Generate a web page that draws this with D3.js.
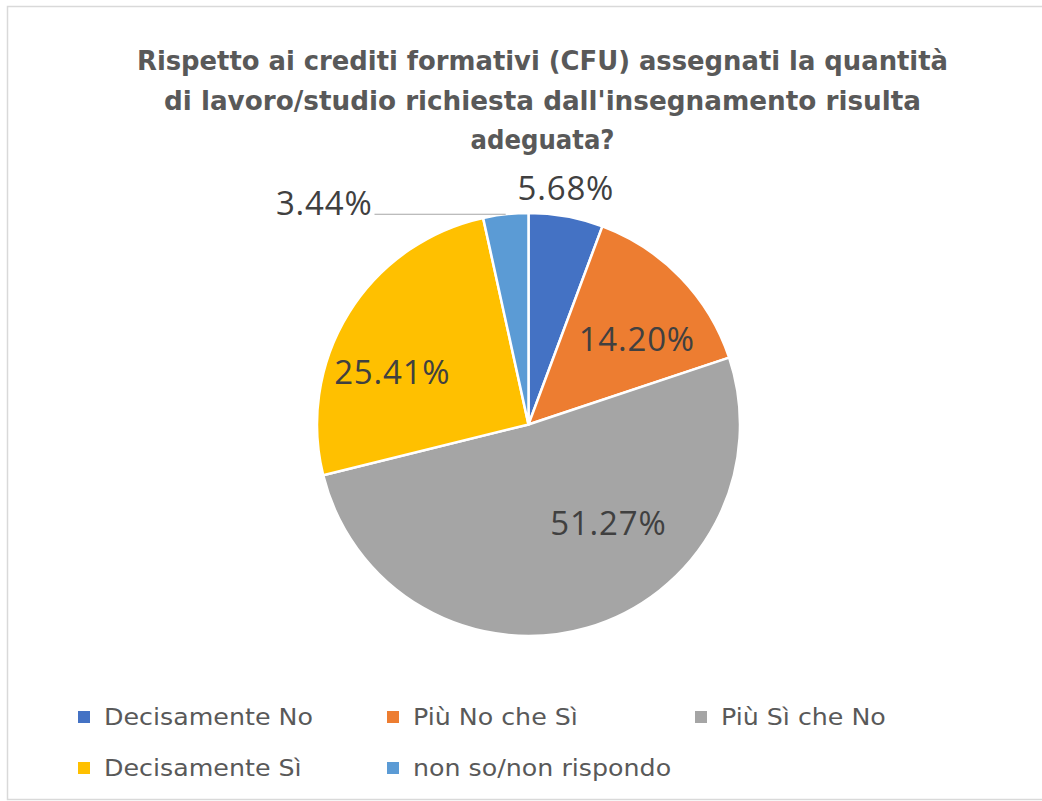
<!DOCTYPE html>
<html>
<head>
<meta charset="utf-8">
<script src="https://cdn.jsdelivr.net/npm/d3@7"></script>
<style>
  body { margin: 0; background: #fff; }
  svg { display: block; }
</style>
</head>
<body>
<svg></svg>
<script>
// ---------------------------------------------------------
// Data
const categories = ['Decisamente No', 'Più No che Sì', 'Più Sì che No', 'Decisamente Sì', 'non so/non rispondo'];
const values = [5.68, 14.2, 51.27, 25.41, 3.44];
const valueLabels = ['5.68%', '14.20%', '51.27%', '25.41%', '3.44%'];
const titleLines = [
    'Rispetto ai crediti formativi (CFU) assegnati la quantità',
    "di lavoro/studio richiesta dall'insegnamento risulta",
    'adeguata?'
];

const colors = ['#4472C4', '#ED7D31', '#A5A5A5', '#FFC000', '#5B9BD5'];

// label placement (angle in degrees from top, radius as fraction of pie radius)
const labelPlace = [
    { a: 9, r: 1.13 },
    { a: 52, r: 0.65 },
    { a: 141, r: 0.6 },
    { a: 291, r: 0.69 },
    { a: null, r: null }
];

const canvasW = 1042;
const canvasH = 801;
const cx = 528.5;
const cy = 424.5;
const radius = 211.5;

const svg = d3.select('svg').attr('width', canvasW).attr('height', canvasH);

// frame
svg.append('rect')
    .attr('x', 7.5)
    .attr('y', 6.5)
    .attr('width', canvasW + 10)
    .attr('height', canvasH - 8)
    .attr('fill', '#fff')
    .attr('stroke', '#d9d9d9')
    .attr('stroke-width', 1.5);

// ---------------------------------------------------------
// Title
const condFont = "'DejaVu Sans Condensed', 'Liberation Sans Narrow', sans-serif";
const title = svg.append('g').attr('id', 'title');
const titleTargets = [811, 757, 144];
titleLines.forEach((line, i) => {
    title.append('text')
        .attr('x', 542.5)
        .attr('y', 70 + i * 39.5)
        .attr('text-anchor', 'middle')
        .attr('fill', '#595959')
        .style('font-family', condFont)
        .style('font-weight', 'bold')
        .style('font-size', '27px')
        .attr('textLength', titleTargets[i])
        .attr('lengthAdjust', 'spacingAndGlyphs')
        .text(line);
});

// ---------------------------------------------------------
// Pie
const pie = d3.pie().sort(null).value((d) => d).startAngle(0).endAngle(2 * Math.PI);
const arcs = pie(values);
const arc = d3.arc().innerRadius(0).outerRadius(radius);

const chart = svg.append('g').attr('transform', `translate(${cx},${cy})`);

chart.selectAll('path.slice')
    .data(arcs)
    .enter()
    .append('path')
    .attr('class', 'slice')
    .attr('d', arc)
    .attr('fill', (d, i) => colors[i])
    .attr('stroke', '#fff')
    .attr('stroke-width', 2.5)
    .attr('stroke-linejoin', 'round');

// ---------------------------------------------------------
// Data labels
const labelFont = "'Open Sans', 'Noto Sans', sans-serif";
arcs.forEach((d, i) => {
    const p = labelPlace[i];
    let x, y, anchor = 'middle';
    if (p.a === null) {
        // leader line out to the left
        const mid = (d.startAngle + d.endAngle) / 2;
        const ex = Math.sin(mid) * radius;
        const ey = -Math.cos(mid) * radius;
        const lx = -156;
        chart.append('line')
            .attr('x1', lx + 2)
            .attr('y1', ey)
            .attr('x2', ex)
            .attr('y2', ey)
            .attr('stroke', '#a6a6a6')
            .attr('stroke-width', 1.2);
        x = lx;
        y = ey - 11;
        anchor = 'end';
    } else {
        const a = p.a * Math.PI / 180;
        x = Math.sin(a) * radius * p.r;
        y = -Math.cos(a) * radius * p.r;
    }
    chart.append('text')
        .attr('x', x)
        .attr('y', y)
        .attr('dy', '0.35em')
        .attr('text-anchor', anchor)
        .attr('fill', '#404040')
        .style('font-family', labelFont)
        .style('font-size', '33px')
        .style('letter-spacing', '0.8px')
        .text(valueLabels[i]);
});

// ---------------------------------------------------------
// Legend
const legendX = [78, 387, 695];
const legendY = [717, 768];
const legend = svg.append('g').attr('id', 'legend');
categories.forEach((c, i) => {
    const col = i % 3;
    const row = Math.floor(i / 3);
    const g = legend.append('g')
        .attr('transform', `translate(${legendX[col]},${legendY[row]})`);
    g.append('rect')
        .attr('x', 0)
        .attr('y', -6)
        .attr('width', 12)
        .attr('height', 12)
        .attr('fill', colors[i]);
    g.append('text')
        .attr('class', 'legend-text')
        .attr('x', 0)
        .attr('y', 0)
        .attr('dy', '0.36em')
        .attr('fill', '#595959')
        .style('font-family', condFont)
        .style('font-size', '23px')
        .text(c);
});
// stretch legend labels horizontally so "Decisamente No" spans ~209px like the original
const refW = legend.select('.legend-text').node().getComputedTextLength();
const sx = 209 / refW;
legend.selectAll('.legend-text').attr('transform', `translate(26,0) scale(${sx},1)`);
</script>
</body>
</html>
